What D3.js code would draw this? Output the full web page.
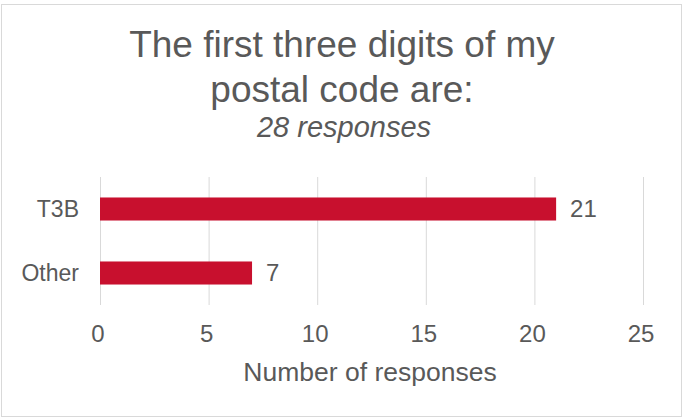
<!DOCTYPE html>
<html>
<head>
<meta charset="utf-8">
<script src="https://cdn.jsdelivr.net/npm/d3@7"></script>
<style>
  body { margin: 0; background: #fff; }
  text { font-family: "Liberation Sans", Arial, sans-serif; fill: #595959; }
  .grid line { stroke: #d9d9d9; stroke-width: 1; }
  .grid path { display: none; }
</style>
</head>
<body>
<div></div>
<script>
// chart data
var categories = ["T3B", "Other"];
var values = [21, 7];
var xTicks = [0, 5, 10, 15, 20, 25];
var titleLines = ["The first three digits of my", "postal code are:"];
var subtitle = "28 responses";
var xLabel = "Number of responses";

// set the dimensions and margins of the graph
var W = 684, H = 419;
var margin = {top: 177, right: 41, bottom: 114, left: 100},
    width = W - margin.left - margin.right,
    height = H - margin.top - margin.bottom;

var svg = d3.select("body").select("div").append("svg")
    .attr("width", W)
    .attr("height", H);

// outer border
svg.append("rect")
    .attr("x", 1.5).attr("y", 4.5)
    .attr("width", 680).attr("height", 412)
    .attr("fill", "#fff")
    .attr("stroke", "#d9d9d9");

// title
svg.selectAll(".title")
    .data(titleLines)
  .enter().append("text")
    .attr("class", "title")
    .attr("x", W / 2)
    .attr("y", function(d, i) { return 57 + i * 45; })
    .attr("text-anchor", "middle")
    .style("font-size", "37px")
    .text(function(d) { return d; });

svg.append("text")
    .attr("x", 344)
    .attr("y", 137)
    .attr("text-anchor", "middle")
    .style("font-size", "29px")
    .style("font-style", "italic")
    .text(subtitle);

var g = svg.append("g")
    .attr("transform", "translate(" + margin.left + "," + margin.top + ")");

// set the ranges
var x = d3.scaleLinear().domain([0, 25]).range([0, width]);
var y = d3.scaleBand().domain(categories).range([0, height])
    .paddingInner(0.64).paddingOuter(0.32);

// vertical gridlines
g.append("g")
    .attr("class", "grid")
    .call(d3.axisBottom(x).tickValues(xTicks).tickSize(height).tickFormat(""));

// bars
g.selectAll(".bar")
    .data(values)
  .enter().append("rect")
    .attr("class", "bar")
    .attr("x", x(0))
    .attr("y", function(d, i) { return y(categories[i]); })
    .attr("width", function(d) { return x(d) - x(0); })
    .attr("height", y.bandwidth())
    .attr("fill", "#c8102e");

// value labels
g.selectAll(".val")
    .data(values)
  .enter().append("text")
    .attr("class", "val")
    .attr("x", function(d) { return x(d) + 14; })
    .attr("y", function(d, i) { return y(categories[i]) + y.bandwidth() / 2; })
    .attr("dy", "0.35em")
    .style("font-size", "24px")
    .text(function(d) { return d; });

// category labels
g.selectAll(".cat")
    .data(categories)
  .enter().append("text")
    .attr("class", "cat")
    .attr("x", -21)
    .attr("y", function(d) { return y(d) + y.bandwidth() / 2; })
    .attr("dy", "0.35em")
    .attr("text-anchor", "end")
    .style("font-size", "23px")
    .text(function(d) { return d; });

// x tick labels
g.selectAll(".tick-label")
    .data(xTicks)
  .enter().append("text")
    .attr("class", "tick-label")
    .attr("x", function(d) { return x(d) - 2; })
    .attr("y", 165)
    .attr("text-anchor", "middle")
    .style("font-size", "24px")
    .text(function(d) { return d; });

// x axis title
svg.append("text")
    .attr("x", 370)
    .attr("y", 381)
    .attr("text-anchor", "middle")
    .style("font-size", "26.5px")
    .text(xLabel);
</script>
</body>
</html>
